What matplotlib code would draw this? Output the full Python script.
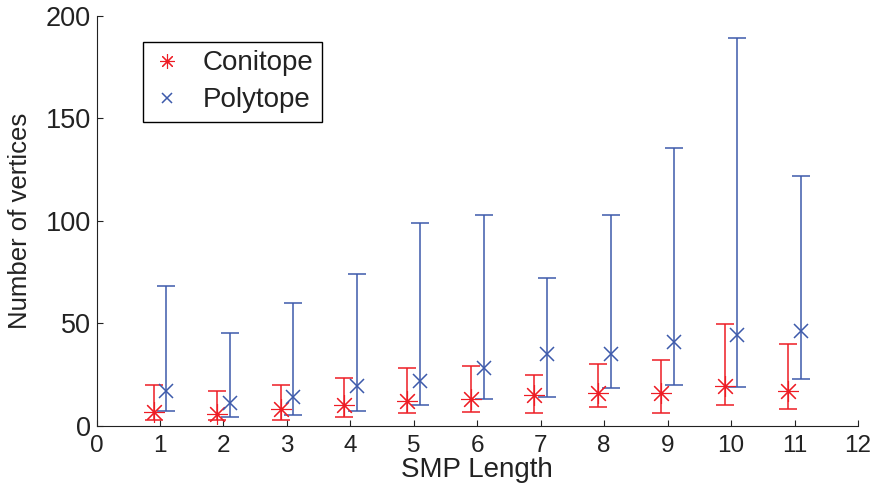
import matplotlib
matplotlib.use("Agg")
import matplotlib.pyplot as plt
import numpy as np

plt.rcParams['font.family'] = ['Liberation Sans', 'DejaVu Sans']

smp_length = [1, 2, 3, 4, 5, 6, 7, 8, 9, 10, 11]

conitope_mean = [6.6, 5.8, 8.0, 10.2, 12.2, 13.0, 15.0, 16.0, 15.8, 19.5, 17.0]
conitope_low = [2.9, 2.9, 2.9, 4.0, 5.9, 6.8, 6.3, 9.2, 5.9, 9.8, 8.3]
conitope_high = [20.0, 17.0, 20.0, 23.0, 28.0, 29.0, 24.6, 29.8, 31.8, 49.8, 39.8]

polytope_mean = [16.9, 11.0, 14.0, 19.2, 21.8, 28.0, 35.0, 35.0, 40.7, 44.0, 46.0]
polytope_low = [7.0, 4.0, 5.0, 7.0, 10.0, 13.0, 14.0, 18.2, 19.8, 19.0, 22.7]
polytope_high = [67.9, 45.0, 60.0, 74.2, 99.0, 103.0, 72.0, 103.0, 135.3, 189.2, 122.0]

x_ticks = list(range(0, 13))
y_ticks = [0, 50, 100, 150, 200]

red = '#ee1d25'
blue = '#3d5aab'
asterisk = (8, 2, 0)

fig = plt.figure(figsize=(8.74, 4.91), dpi=100)
L, R, T, B = 96.5, 858, 16, 425.5
ax = fig.add_axes([L/874, 1-B/491, (R-L)/874, (B-T)/491])

x = np.array(smp_length, dtype=float)
cm = np.array(conitope_mean); cl = np.array(conitope_low); ch = np.array(conitope_high)
pm = np.array(polytope_mean); pl = np.array(polytope_low); ph = np.array(polytope_high)

ax.errorbar(x - 0.1, cm, yerr=[cm - cl, ch - cm], fmt='none', ecolor=red,
            elinewidth=1.1, capsize=6.5, capthick=1.1)
ax.errorbar(x + 0.1, pm, yerr=[pm - pl, ph - pm], fmt='none', ecolor=blue,
            elinewidth=1.1, capsize=6.5, capthick=1.1)
ax.plot(x - 0.1, cm, linestyle='none', marker=asterisk, markersize=15,
        markeredgewidth=0.8, color=red, label='Conitope')
ax.plot(x + 0.1, pm, linestyle='none', marker='x', markersize=10,
        markeredgewidth=1.1, color=blue, label='Polytope')

ax.set_xlim(0, 12)
ax.set_ylim(0, 200)
ax.set_xticks(x_ticks)
ax.set_yticks(y_ticks)
ax.spines['top'].set_visible(False)
ax.spines['right'].set_visible(False)
for s in ('left', 'bottom'):
    ax.spines[s].set_linewidth(0.8)
    ax.spines[s].set_color('#222222')
ax.tick_params(direction='in', length=4, width=0.8, pad=4, colors='#222222')
ax.tick_params(axis='y', labelsize=19.5)
ax.tick_params(axis='x', labelsize=17.5, pad=7)
ax.set_xlabel('SMP Length', fontsize=20, labelpad=0, color='#222222')
ax.set_ylabel('Number of vertices', fontsize=18.5, labelpad=10, color='#222222')

leg = ax.legend(loc='upper left', bbox_to_anchor=((143-L)/(R-L), 1-(42-T)/(B-T)), fontsize=20,
                frameon=True, fancybox=False, edgecolor='black', framealpha=1,
                handlelength=1.1, handletextpad=0.75, borderpad=0.3, labelspacing=0.4,
                borderaxespad=0, markerscale=0.7)
leg.get_frame().set_linewidth(1.0)
for t in leg.get_texts():
    t.set_color('#222222')

fig.savefig('out.png', dpi=100)
